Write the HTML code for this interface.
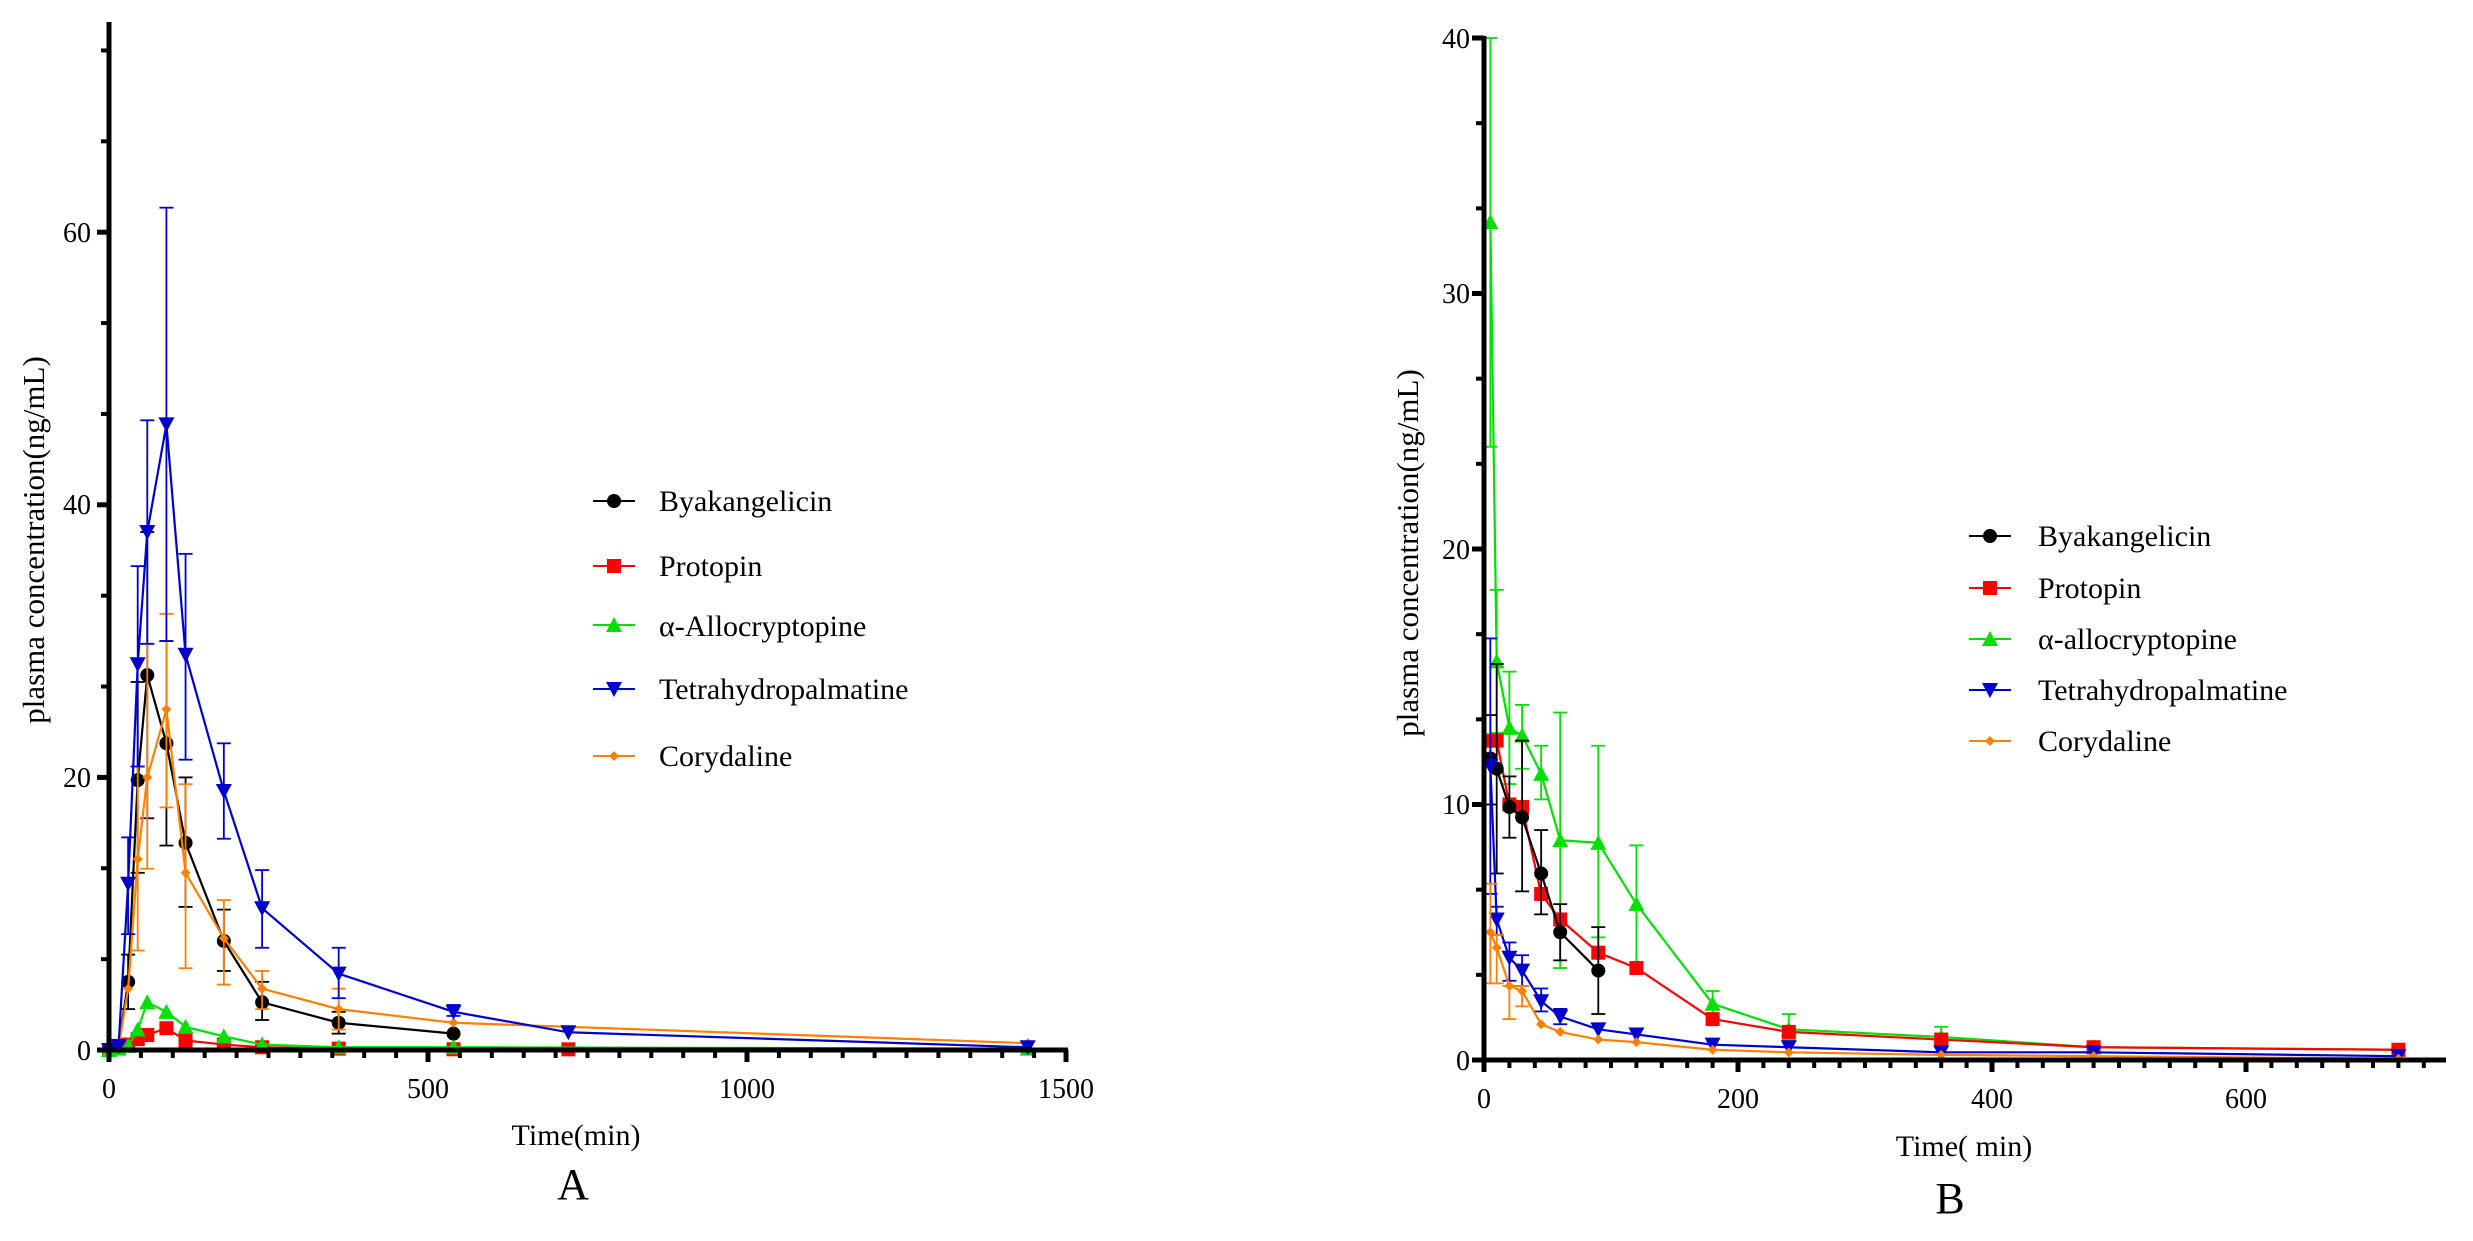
<!DOCTYPE html>
<html><head><meta charset="utf-8"><style>
html,body{margin:0;padding:0;background:#fff;}
svg text{font-family:"Liberation Serif",serif;fill:#000;}
</style></head><body>
<svg id="s" width="2473" height="1236" viewBox="0 0 2473 1236" xmlns="http://www.w3.org/2000/svg">
<g id="A"></g><g id="B"></g>
<!-- Panel A labels -->
<g font-size="28" text-anchor="end">
<text x="91" y="1060">0</text><text x="91" y="787">20</text><text x="91" y="514">40</text><text x="91" y="242">60</text>
</g>
<g font-size="28" text-anchor="middle">
<text x="109" y="1098">0</text><text x="428" y="1098">500</text><text x="747" y="1098">1000</text><text x="1066" y="1098">1500</text>
</g>
<text x="576" y="1145" font-size="30" text-anchor="middle">Time(min)</text>
<text x="573" y="1199" font-size="44" text-anchor="middle">A</text>
<text transform="translate(44,540) rotate(-90)" font-size="31" text-anchor="middle">plasma concentration(ng/mL)</text>
<g font-size="30">
<text x="659" y="511">Byakangelicin</text>
<text x="659" y="576">Protopin</text>
<text x="659" y="636">α-Allocryptopine</text>
<text x="659" y="699">Tetrahydropalmatine</text>
<text x="659" y="766">Corydaline</text>
</g>
<!-- Panel B labels -->
<g font-size="28" text-anchor="end">
<text x="1470" y="1070">0</text><text x="1470" y="814">10</text><text x="1470" y="559">20</text><text x="1470" y="303">30</text><text x="1470" y="48">40</text>
</g>
<g font-size="28" text-anchor="middle">
<text x="1484" y="1108">0</text><text x="1738" y="1108">200</text><text x="1992" y="1108">400</text><text x="2246" y="1108">600</text>
</g>
<text x="1964" y="1156" font-size="30" text-anchor="middle">Time( min)</text>
<text x="1950" y="1213" font-size="44" text-anchor="middle">B</text>
<text transform="translate(1418,553) rotate(-90)" font-size="31" text-anchor="middle">plasma concentration(ng/mL)</text>
<g font-size="30">
<text x="2038" y="546">Byakangelicin</text>
<text x="2038" y="598">Protopin</text>
<text x="2038" y="649">α-allocryptopine</text>
<text x="2038" y="700">Tetrahydropalmatine</text>
<text x="2038" y="751">Corydaline</text>
</g>
</svg>
<script>
const NS="http://www.w3.org/2000/svg";
function el(p,t,a){const e=document.createElementNS(NS,t);for(const k in a)e.setAttribute(k,a[k]);p.appendChild(e);return e;}
const col={by:"#000",pr:"#ff0000",al:"#00e000",th:"#0000cc",co:"#ff8000"};
function marker(g,type,x,y,c,s){
 s=s||6;
 if(type=="by")el(g,"circle",{cx:x,cy:y,r:s,fill:c});
 else if(type=="pr")el(g,"rect",{x:x-s,y:y-s,width:2*s,height:2*s,fill:c});
 else if(type=="al")el(g,"polygon",{points:`${x},${y-s-1} ${x-s-1},${y+s} ${x+s+1},${y+s}`,fill:c});
 else if(type=="th")el(g,"polygon",{points:`${x},${y+s+1} ${x-s-1},${y-s} ${x+s+1},${y-s}`,fill:c});
 else el(g,"polygon",{points:`${x},${y-s} ${x-s},${y} ${x},${y+s} ${x+s},${y}`,fill:c});
}
function panel(g,P,series){
 const X=t=>P.x0+t*P.sx, Y=v=>P.y0-v*P.sy;
 for(const [k,d] of series){
  const c=col[k];
  for(const p of d){ if(p[2]!=null){const x=X(p[0]);
    el(g,"line",{x1:x,y1:Y(p[2]),x2:x,y2:Y(p[3]),stroke:c,"stroke-width":1.8});
    el(g,"line",{x1:x-7,y1:Y(p[2]),x2:x+7,y2:Y(p[2]),stroke:c,"stroke-width":1.8});
    el(g,"line",{x1:x-7,y1:Y(p[3]),x2:x+7,y2:Y(p[3]),stroke:c,"stroke-width":1.8});}}
  el(g,"polyline",{points:d.map(p=>X(p[0])+","+Y(p[1])).join(" "),fill:"none",stroke:c,"stroke-width":2.2});
  for(const p of d)marker(g,k,X(p[0]),Y(p[1]),c,k=="co"?5:7);
 }
 el(g,"line",{x1:P.x0,y1:P.ytop,x2:P.x0,y2:P.y0+3,stroke:"#000","stroke-width":5});
 el(g,"line",{x1:P.x0-3,y1:P.y0,x2:P.xend,y2:P.y0,stroke:"#000","stroke-width":5});
 for(let v=0;v<=P.ymax+1e-6;v+=P.ym){const y=Y(v);const maj=Math.abs(v/P.yM-Math.round(v/P.yM))<1e-6;
  el(g,"line",{x1:P.x0-(maj?12:8),y1:y,x2:P.x0,y2:y,stroke:"#000","stroke-width":maj?5:4});}
 for(let t=0;X(t)<=P.xend+1;t+=P.xm){const x=X(t);const maj=Math.abs(t/P.xM-Math.round(t/P.xM))<1e-6;
  el(g,"line",{x1:x,y1:P.y0,x2:x,y2:P.y0+(maj?12:8),stroke:"#000","stroke-width":maj?5:4});}
 P.leg.forEach((ly,i)=>{const k=["by","pr","al","th","co"][i];
  el(g,"line",{x1:P.lx,y1:ly,x2:P.lx+42,y2:ly,stroke:col[k],"stroke-width":2});
  marker(g,k,P.lx+21,ly,col[k],k=="co"?5:7);});
}
panel(document.getElementById("A"),{x0:109,y0:1050,sx:0.638,sy:13.63,ytop:22,xend:1068,ymax:75,ym:20/3,yM:20,xm:50,xM:500,lx:593,leg:[501,566,625,689,756]},[
 ["by",[[0,0],[15,0.3],[30,5,7,3],[45,19.8,27,13],[60,27.5,38,17],[90,22.5,30,15],[120,15.2,20,10.5],[180,8,10.3,5.8],[240,3.5,5,2.2],[360,2,2.8,1.2],[540,1.2]]],
 ["pr",[[0,0],[15,0.2],[30,0.4],[45,0.8],[60,1.1],[90,1.6],[120,0.7],[180,0.4],[240,0.2],[360,0.1],[540,0.05],[720,0.05]]],
 ["al",[[0,0],[15,0.1],[30,0.3],[45,1.5],[60,3.5],[90,2.8],[120,1.7],[180,1],[240,0.4],[360,0.2],[540,0.2],[1440,0.1]]],
 ["co",[[0,0],[15,0.2],[30,4.5],[45,14,20.8,7.3],[60,20,29.8,13.3],[90,25,32,17.8],[120,13,19.5,6],[180,8.2,11,4.8],[240,4.5,5.8,3],[360,3,4.5,1.5],[540,2],[1440,0.5]]],
 ["th",[[0,0],[15,0.3],[30,12.2,15.6,8.5],[45,28.3,35.5,20.8],[60,38,46.2,29.8],[90,45.9,61.8,30],[120,29,36.4,21.3],[180,19,22.5,15.5],[240,10.4,13.2,7.5],[360,5.6,7.5,3.8],[540,2.8,3.3,2.5],[720,1.3],[1440,0.2]]]
]);
panel(document.getElementById("B"),{x0:1484,y0:1060,sx:1.27,sy:25.55,ytop:36,xend:2446,ymax:40,ym:10/3,yM:10,xm:20,xM:200,lx:1969,leg:[536,588,639,690,741]},[
 ["al",[[5,32.8,40,24],[10,15.6,18.4,12.8],[20,13,15.2,10.8],[30,12.7,13.9,11.4],[45,11.2,12.3,10.2],[60,8.6,13.6,3.6],[90,8.5,12.3,4.8],[120,6.1,8.4,3.8],[180,2.2,2.7,1.7],[240,1.2,1.8,0.8],[360,0.9,1.3,0.6],[480,0.5],[720,0.4]]],
 ["pr",[[5,12.5],[10,12.5],[20,10],[30,9.9],[45,6.5],[60,5.5],[90,4.2],[120,3.6],[180,1.6],[240,1.1],[360,0.8],[480,0.5],[720,0.4]]],
 ["by",[[5,11.8,13.5,10],[10,11.4,15.5,7.3],[20,9.9,11.1,8.7],[30,9.5,12.5,6.6],[45,7.3,9,5.7],[60,5,6.1,3.9],[90,3.5,5.2,1.8]]],
 ["th",[[5,11.5,16.5,6.5],[10,5.5,6,4.9],[20,4,4.6,3.1],[30,3.5,4.1,2.9],[45,2.3,2.8,1.9],[60,1.7,2,1.4],[90,1.2],[120,1],[180,0.6],[240,0.5],[360,0.3],[480,0.3],[720,0.15]]],
 ["co",[[5,5,6.9,3],[10,4.4,4.9,3],[20,2.9,2.9,1.6],[30,2.7,2.9,2.1],[45,1.4],[60,1.1],[90,0.8],[120,0.7],[180,0.4],[240,0.3],[360,0.2],[480,0.15],[720,0.05]]]
]);
</script>
</body></html>
